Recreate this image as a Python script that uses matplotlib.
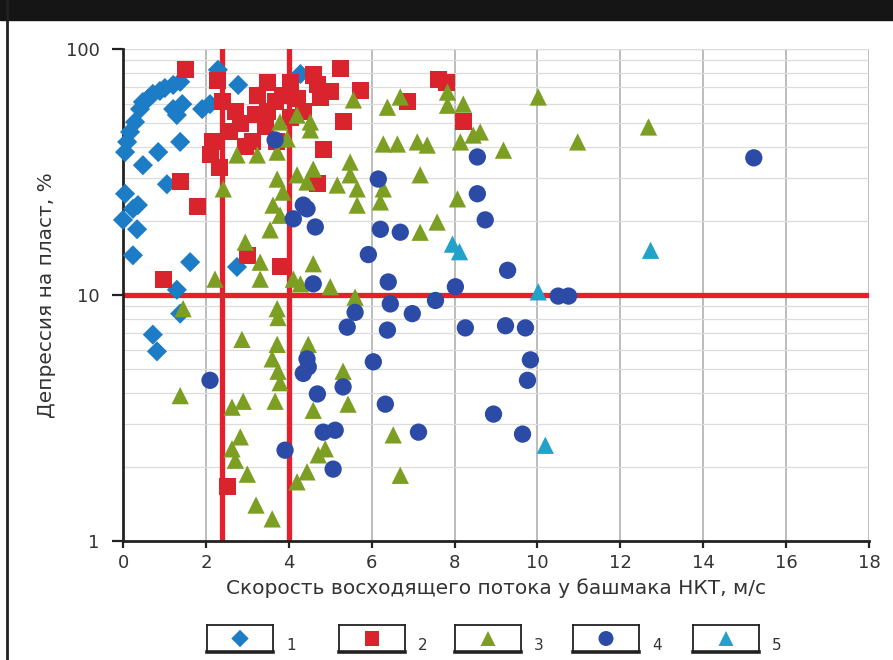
import numpy as np
import matplotlib
matplotlib.use("Agg")
import matplotlib.pyplot as plt
from matplotlib.patches import Rectangle
from matplotlib.lines import Line2D

# серия 1 - ромбы
x1 = [0.05, 0.10, 0.17, 0.29, 0.41, 0.48, 0.60, 0.72, 0.89, 1.01, 1.21, 1.38,
      1.21, 1.43, 1.30, 1.91, 2.10, 2.29, 2.78, 4.28, 1.38, 0.85, 0.48, 1.06,
      0.05, 0.36, 0.00, 0.34, 0.24, 0.24, 1.62, 2.75, 1.30, 1.38, 0.72, 0.82]
y1 = [38.1, 41.9, 46.0, 50.5, 57.0, 60.9, 62.7, 65.7, 67.5, 69.4, 71.4, 73.5,
      57.0, 59.7, 53.9, 57.0, 59.7, 82.3, 71.4, 79.1, 41.9, 38.1, 33.7, 28.2,
      25.8, 23.2, 20.2, 18.5, 22.4, 14.5, 13.6, 13.0, 10.5, 8.4, 6.9, 5.9]

# серия 2 - квадраты
x2 = [1.50, 2.29, 2.39, 2.83, 3.12, 2.10, 2.34, 3.24, 3.48, 3.86, 3.48, 4.20,
      4.59, 5.24, 5.72, 5.00, 4.69, 4.35, 5.31, 4.83, 4.69, 1.38, 1.79, 0.97,
      3.00, 3.79, 6.86, 7.61, 8.21, 2.51, 2.58, 2.95, 3.43, 4.03, 3.67, 2.71,
      2.17, 3.19, 4.76, 4.03, 3.70, 7.80]
y2 = [82.2, 74.8, 60.9, 49.6, 41.9, 37.1, 33.1, 65.0, 73.4, 65.0, 55.5, 62.7,
      78.4, 83.0, 68.1, 66.9, 71.4, 55.5, 50.5, 39.2, 28.3, 28.8, 22.8, 11.6,
      14.5, 13.0, 60.9, 75.5, 50.5, 1.66, 46.0, 40.0, 48.2, 73.4, 60.9, 55.5,
      41.9, 54.0, 63.8, 52.9, 41.9, 73.0]

# серия 3 - треугольники
x3 = [2.75, 2.42, 3.79, 3.96, 4.20, 3.72, 3.24, 3.72, 4.20, 3.86, 3.62, 3.79,
      3.55, 4.52, 4.52, 4.59, 4.44, 5.56, 5.48, 5.48, 5.17, 5.65, 5.65, 6.21,
      6.28, 6.38, 6.69, 6.28, 6.62, 7.10, 7.34, 7.17, 7.83, 7.83, 8.21, 8.62,
      8.45, 8.14, 8.07, 7.58, 7.17, 10.02, 12.68, 10.97, 9.18,
      2.22, 2.95, 3.31, 3.31, 4.11, 3.72, 3.74, 2.87, 3.72, 3.60, 3.74, 1.45,
      4.59, 5.00, 5.60, 4.28, 4.47, 5.31, 1.38,
      2.90, 2.63, 3.67, 3.79, 4.59, 5.43, 6.52, 6.69, 2.83, 2.63, 2.71, 3.00,
      3.21, 3.60, 4.20, 4.44, 4.71, 4.88]
y3 = [37.1, 27.0, 50.5, 43.1, 53.9, 38.1, 37.1, 29.6, 30.8, 26.2, 23.2, 21.1,
      18.4, 50.5, 46.9, 32.5, 28.8, 62.1, 34.7, 30.8, 28.0, 27.0, 23.2, 23.9,
      27.0, 58.0, 63.8, 41.1, 41.1, 41.9, 40.7, 30.8, 66.8, 59.1, 59.7, 46.0,
      44.7, 41.9, 24.6, 19.8, 18.0, 63.8, 48.2, 41.9, 38.8,
      11.6, 16.4, 13.6, 11.6, 11.6, 8.8, 8.1, 6.6, 6.3, 5.5, 4.9, 8.8,
      13.4, 10.8, 9.8, 11.1, 6.3, 4.9, 3.9,
      3.7, 3.5, 3.7, 4.4, 3.4, 3.6, 2.7, 1.85, 2.65, 2.37, 2.13, 1.87,
      1.40, 1.23, 1.74, 1.91, 2.24, 2.37]

# серия 4 - круги
x4 = [3.67, 6.16, 4.35, 4.11, 4.64, 6.21, 6.69, 5.92, 4.59, 6.40, 7.54, 6.45,
      5.60, 5.41, 6.98, 8.02, 8.55, 8.55, 8.74, 9.28, 10.50, 10.75, 15.22, 8.26,
      9.23, 9.71, 6.38, 6.04, 4.44, 4.35, 4.69, 5.31, 6.33, 4.83, 5.12, 7.13,
      5.07, 8.94, 2.10, 3.91, 9.83, 9.76, 9.64, 4.44, 4.47]
y4 = [42.7, 29.6, 23.2, 20.4, 18.9, 18.5, 18.0, 14.6, 11.1, 11.3, 9.5, 9.2,
      8.5, 7.4, 8.4, 10.8, 36.4, 25.8, 20.2, 12.6, 9.9, 9.9, 36.1, 7.35,
      7.5, 7.35, 7.2, 5.35, 5.5, 4.8, 3.96, 4.23, 3.6, 2.77, 2.82, 2.77,
      1.96, 3.28, 4.5, 2.34, 5.45, 4.5, 2.72, 22.4, 5.1]

# серия 5 - голубые треугольники
x5 = [7.95, 8.12, 12.73, 10.02, 10.19]
y5 = [16.1, 15.0, 15.2, 10.3, 2.45]

legend_labels = ["1", "2", "3", "4", "5"]
xticks = [0, 2, 4, 6, 8, 10, 12, 14, 16, 18]
yticks = [1, 10, 100]
v_limits = [2.4, 4.0]
h_limit = 10

series = [
    (x1, y1, "D", "#1d7cc6", 105),
    (x2, y2, "s", "#d9242e", 150),
    (x3, y3, "^", "#7c9e22", 155),
    (x4, y4, "o", "#2b4ba6", 155),
    (x5, y5, "^", "#22a2c9", 155),
]

W, H = 893, 660
fig = plt.figure(figsize=(W / 100, H / 100), dpi=100)
fig.patch.set_facecolor("white")

# черная полоса сверху и рамка слева
fig.patches.append(Rectangle((0, 1 - 20 / H), 1, 20 / H, transform=fig.transFigure,
                             color="#151515", zorder=0))
fig.lines.append(Line2D([7 / W, 7 / W], [0, 1], transform=fig.transFigure,
                        color="#222222", lw=2))

ax = fig.add_axes([123 / W, 1 - 541 / H, (869 - 123) / W, (541 - 49) / H])
ax.set_yscale("log")
ax.set_xlim(0, 18)
ax.set_ylim(1, 100)

ax.set_xticks(xticks)
ax.set_yticks(yticks)
ax.set_yticklabels([str(v) for v in yticks])
ax.yaxis.set_minor_locator(matplotlib.ticker.LogLocator(base=10, subs=np.arange(2, 10)))
ax.yaxis.set_minor_formatter(matplotlib.ticker.NullFormatter())

ax.grid(axis="x", which="major", color="#a9a9a9", lw=1.1)
ax.grid(axis="y", which="both", color="#dcdcdc", lw=0.9)
ax.set_axisbelow(True)

for s in ["top", "right"]:
    ax.spines[s].set_visible(False)
for s in ["left", "bottom"]:
    ax.spines[s].set_linewidth(2)
    ax.spines[s].set_color("#222222")
ax.axhline(100, color="#dcdcdc", lw=0.9, zorder=0)

ax.tick_params(axis="y", which="major", length=8, width=1.6, color="#222222",
               labelsize=13, labelcolor="#333333", pad=9)
ax.tick_params(axis="y", which="minor", length=0)
ax.tick_params(axis="x", length=5, width=1.6, color="#222222",
               labelsize=13, labelcolor="#333333", pad=4)

# граничные линии
for v in v_limits:
    ax.axvline(v, color="#e3202b", lw=3.8, zorder=1)
ax.axhline(h_limit, color="#e3202b", lw=3.8, zorder=1)

for xs, ys, m, c, sz in series:
    ax.scatter(xs, ys, marker=m, s=sz, color=c, edgecolors="none",
               zorder=3, clip_on=False)

ax.set_xlabel("Скорость восходящего потока у башмака НКТ, м/с",
              fontsize=14.5, color="#333333", labelpad=5)
ax.set_ylabel("Депрессия на пласт, %", fontsize=14.5, color="#333333", labelpad=7)

# легенда из рамок
box_left = [207, 339, 455, 573, 693]
for i, (xs, ys, m, c, sz) in enumerate(series):
    bx = fig.add_axes([box_left[i] / W, 1 - 652 / H, 66 / W, 27 / H])
    bx.set_xlim(0, 1)
    bx.set_ylim(0, 1)
    bx.set_xticks([])
    bx.set_yticks([])
    for s in bx.spines.values():
        s.set_linewidth(1.3)
        s.set_color("#222222")
    bx.spines["bottom"].set_linewidth(2.6)
    bx.scatter([0.5], [0.5], marker=m, s=sz * 0.75, color=c, edgecolors="none")
    fig.text((box_left[i] + 84) / W, 1 - 646 / H, legend_labels[i],
             fontsize=11, color="#333333", ha="center", va="center")

fig.savefig("out.png", dpi=100)
